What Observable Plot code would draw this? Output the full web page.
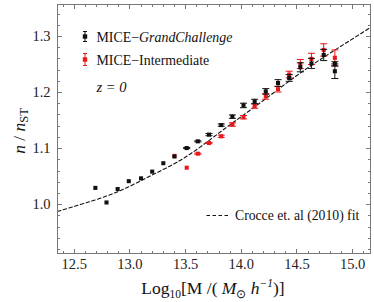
<!DOCTYPE html>
<html><head><meta charset="utf-8">
<script src="https://cdn.jsdelivr.net/npm/d3@7"></script>
<script src="https://cdn.jsdelivr.net/npm/@observablehq/plot@0.6"></script>
<style>
body{margin:0;background:#fff}
#chart{position:relative;width:374px;height:302px}
</style>
</head><body><div id="chart"></div>
<script>
// MICE-GrandChallenge
const gcMass  = [12.69,12.79,12.89,12.99,13.10,13.20,13.30,13.40,13.51,13.61,13.71,13.82,13.92,14.02,14.12,14.22,14.33,14.43,14.53,14.63,14.74,14.84,14.84];
const gcRatio = [1.030,1.004,1.028,1.042,1.047,1.059,1.074,1.086,1.101,1.113,1.125,1.142,1.157,1.177,1.184,1.202,1.217,1.226,1.245,1.252,1.267,1.251,1.238];
const gcErr   = [0,0,0,0,0,0,0,0,0.001,0.001,0.002,0.002,0.003,0.004,0.004,0.005,0.006,0.006,0.008,0.009,0.010,0.004,0.013];
// MICE-Intermediate
const imMass  = [13.40,13.51,13.61,13.71,13.82,13.92,14.02,14.12,14.22,14.33,14.43,14.53,14.63,14.74,14.84];
const imRatio = [1.087,1.066,1.091,1.110,1.122,1.143,1.156,1.176,1.193,1.206,1.232,1.251,1.260,1.276,1.262];
const imErr   = [0,0,0.001,0.001,0.002,0.003,0.003,0.004,0.005,0.005,0.006,0.008,0.010,0.011,0.014];
// Crocce et al. (2010) fit
const fitMass  = [12.35,12.6,12.9,13.2,13.5,13.8,14.0,14.3,14.56,14.85,15.16];
const fitRatio = [0.988,1.003,1.024,1.053,1.085,1.128,1.157,1.201,1.239,1.277,1.316];
// ticks
const xTicks = [12.5,13.0,13.5,14.0,14.5,15.0];
const yTicks = [1.0,1.1,1.2,1.3];
const xDomain = [12.35,15.16];
const yDomain = [0.913,1.357];

const xMinor = d3.range(124,152).map(d=>d/10).filter(d=>!xTicks.some(t=>Math.abs(t-d)<1e-9));
const yMinor = d3.range(46,68).map(d=>d/50).filter(d=>!yTicks.some(t=>Math.abs(t-d)<1e-9));

const gc = gcMass.map((m,i)=>({m, r:gcRatio[i], e:gcErr[i]}));
const im = imMass.map((m,i)=>({m, r:imRatio[i], e:imErr[i]}));
const fit = fitMass.map((m,i)=>({m, r:fitRatio[i]}));

const cap = {draw(ctx, size){ const w = Math.sqrt(size)*0.9; ctx.moveTo(-w,0); ctx.lineTo(w,0); }};
const frameCol = "#777777";
const serif = "'Liberation Serif', 'Times New Roman', serif";

function series(data, color){
  const withErr = data.filter(d=>d.e>0);
  return [
    Plot.ruleX(withErr, {x:"m", y1:d=>d.r-d.e, y2:d=>d.r+d.e, stroke:color, strokeWidth:1}),
    Plot.dot(withErr, {x:"m", y:d=>d.r-d.e, symbol:cap, r:2.2, stroke:color, strokeWidth:1}),
    Plot.dot(withErr, {x:"m", y:d=>d.r+d.e, symbol:cap, r:2.2, stroke:color, strokeWidth:1}),
    Plot.dot(data, {x:"m", y:"r", symbol:"square", r:2.3, fill:color, stroke:null})
  ];
}

const chart = Plot.plot({
  width:374, height:302,
  marginLeft:57, marginRight:4, marginTop:4, marginBottom:49,
  x:{domain:xDomain},
  y:{domain:yDomain},
  style:{fontFamily:serif, fontSize:"14.5px", color:"#111", background:"#fff"},
  marks:[
    Plot.frame({stroke:frameCol}),
    Plot.line(fit, {x:"m", y:"r", curve:"natural", stroke:"#111", strokeWidth:1.1, strokeDasharray:"3.5,2.5"}),
    ...series(im, "#e8171b"),
    ...series(gc, "#111"),
    Plot.axisX(xTicks, {anchor:"bottom", tickSize:0, tickPadding:5, tickFormat:d3.format(".1f"), fontSize:14.5, fill:"#222", label:null}),
    Plot.axisY(yTicks, {anchor:"left", tickSize:0, tickPadding:7, tickFormat:d3.format(".1f"), fontSize:14.5, fill:"#222", label:null})
  ]
});
document.getElementById("chart").appendChild(chart);

const svg = d3.select(chart);
// frame and inward ticks, positioned through the plot's own scales
const sxo = chart.scale("x"), syo = chart.scale("y");
const sx = d3.scaleLinear(sxo.domain, sxo.range);
const sy = d3.scaleLinear(syo.domain, syo.range);
const [x0, x1] = sxo.range, [y0, y1] = syo.range;
const fg = svg.append("g").attr("stroke", frameCol).attr("stroke-width",1).attr("fill","none");
fg.append("rect").attr("x", x0+0.5).attr("y", y1+0.5).attr("width", x1-x0).attr("height", y0-y1);
function xt(vals, len){
  vals.forEach(v=>{
    const p = Math.round(sx(v))+0.5;
    fg.append("line").attr("x1",p).attr("x2",p).attr("y1",y0+0.5).attr("y2",y0+0.5-len);
    fg.append("line").attr("x1",p).attr("x2",p).attr("y1",y1+0.5).attr("y2",y1+0.5+len);
  });
}
function yt(vals, len){
  vals.forEach(v=>{
    const p = Math.round(sy(v))+0.5;
    fg.append("line").attr("y1",p).attr("y2",p).attr("x1",x0+0.5).attr("x2",x0+0.5+len);
    fg.append("line").attr("y1",p).attr("y2",p).attr("x1",x1+0.5).attr("x2",x1+0.5-len);
  });
}
xt(xTicks, 4.5); xt(xMinor, 2.5); yt(yTicks, 4.5); yt(yMinor, 2.5);

// annotations (legend, axis titles)
const g = svg.append("g").attr("font-family",serif).attr("fill","#111").attr("text-anchor","start");
function legSym(x, y, color, h){
  const s = g.append("g").attr("stroke", color).attr("stroke-width",1);
  s.append("line").attr("x1",x).attr("x2",x).attr("y1",y-h).attr("y2",y+h);
  s.append("line").attr("x1",x-2).attr("x2",x+2).attr("y1",y-h).attr("y2",y-h);
  s.append("line").attr("x1",x-2).attr("x2",x+2).attr("y1",y+h).attr("y2",y+h);
  g.append("rect").attr("x",x-2.2).attr("y",y-2.2).attr("width",4.4).attr("height",4.4).attr("fill",color);
}
legSym(85, 36.5, "#111", 5);
legSym(85, 59.5, "#e8171b", 6);
const t1 = g.append("text").attr("x",96.5).attr("y",41.5).attr("font-size",13.9);
t1.append("tspan").text("MICE\u2212");
t1.append("tspan").attr("font-style","italic").text("GrandChallenge");
g.append("text").attr("x",96.5).attr("y",64.5).attr("font-size",13.9).text("MICE\u2212Intermediate");
g.append("text").attr("x",96.5).attr("y",91.5).attr("font-size",14.5).attr("font-style","italic").text("z = 0");

g.append("line").attr("x1",206.5).attr("x2",230).attr("y1",215.5).attr("y2",215.5)
  .attr("stroke","#111").attr("stroke-width",1.1).attr("stroke-dasharray","3.5,2.5");
g.append("text").attr("x",235).attr("y",220).attr("font-size",13.7).text("Crocce et. al (2010) fit");

// x title
const xtl = g.append("text").attr("x",213).attr("y",294).attr("text-anchor","middle").attr("font-size",17.5);
xtl.append("tspan").text("Log");
xtl.append("tspan").attr("font-size",11.5).attr("dy",4).text("10");
xtl.append("tspan").attr("dy",-4).text("[M /( ");
xtl.append("tspan").attr("font-style","italic").text("M");
xtl.append("tspan").attr("font-size",11.5).attr("dy",4).text("\u2299");
xtl.append("tspan").attr("dy",-4).attr("font-style","italic").text(" h");
xtl.append("tspan").attr("font-size",11.5).attr("dy",-7).attr("font-style","italic").text("\u22121");
xtl.append("tspan").attr("dy",7).text(")]");

// y title
const ytl = g.append("text").attr("transform","translate(25,131) rotate(-90)").attr("text-anchor","middle").attr("font-size",17.5);
ytl.append("tspan").attr("font-style","italic").text("n");
ytl.append("tspan").text(" / ");
ytl.append("tspan").attr("font-style","italic").text("n");
ytl.append("tspan").attr("font-size",12.5).attr("dy",3).text("ST");
</script>
</body></html>
